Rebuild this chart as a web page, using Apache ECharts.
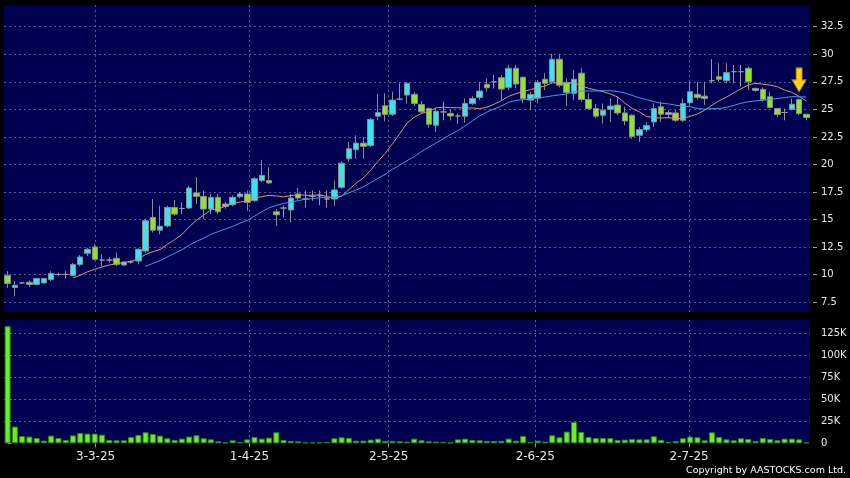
<!DOCTYPE html>
<html>
<head>
<meta charset="utf-8">
<script src="https://cdn.jsdelivr.net/npm/echarts@6/dist/echarts.min.js"></script>
<style>
html,body{margin:0;padding:0;background:#000;}
#chart{width:850px;height:478px;}
</style>
</head>
<body>
<div id="chart"></div>
<script>
// Trading dates (d-m-yy)
const dates = [
'13-2-25','14-2-25','17-2-25','18-2-25','19-2-25','20-2-25','21-2-25','24-2-25','25-2-25','26-2-25','27-2-25','28-2-25',
'3-3-25','4-3-25','5-3-25','6-3-25','7-3-25','10-3-25','11-3-25','12-3-25','13-3-25','14-3-25','17-3-25','18-3-25','19-3-25','20-3-25','21-3-25','24-3-25','25-3-25','26-3-25','27-3-25','28-3-25','31-3-25',
'1-4-25','2-4-25','3-4-25','7-4-25','8-4-25','9-4-25','10-4-25','11-4-25','14-4-25','15-4-25','16-4-25','17-4-25','22-4-25','23-4-25','24-4-25','25-4-25','28-4-25','29-4-25','30-4-25',
'2-5-25','6-5-25','7-5-25','8-5-25','9-5-25','12-5-25','13-5-25','14-5-25','15-5-25','16-5-25','19-5-25','20-5-25','21-5-25','22-5-25','23-5-25','26-5-25','27-5-25','28-5-25','29-5-25','30-5-25',
'2-6-25','3-6-25','4-6-25','5-6-25','6-6-25','9-6-25','10-6-25','11-6-25','12-6-25','13-6-25','16-6-25','17-6-25','18-6-25','19-6-25','20-6-25','23-6-25','24-6-25','25-6-25','26-6-25','27-6-25','30-6-25',
'2-7-25','3-7-25','4-7-25','7-7-25','8-7-25','9-7-25','10-7-25','11-7-25','14-7-25','15-7-25','16-7-25','17-7-25','18-7-25','21-7-25','22-7-25','23-7-25','24-7-25','25-7-25'
];

const opens = [
9.94,8.84,9.26,9.32,9.12,9.26,9.57,10.03,10.03,9.94,
10.94,11.94,12.52,11.33,11.33,11.49,10.88,11.15,11.24,12.15,
15.19,14.04,14.43,16.10,16.01,16.05,17.42,17.11,15.96,17.02,
16.20,16.35,17.08,17.33,16.72,18.54,18.54,15.71,16.05,15.87,
17.33,16.87,17.11,17.17,16.87,16.87,17.93,20.52,21.34,21.94,
21.73,24.38,25.32,24.56,25.93,26.30,26.36,25.45,25.08,23.56,
24.77,24.63,24.40,24.38,25.54,26.08,27.27,27.50,27.87,27.00,
28.73,27.91,25.84,26.00,27.73,27.50,29.55,27.45,26.45,28.28,
25.90,25.08,24.47,25.00,25.39,24.68,24.47,22.65,23.17,23.86,
25.23,24.53,24.68,24.01,25.60,26.36,26.20,27.60,27.96,27.60,
28.42,28.42,28.73,26.72,26.82,26.14,25.08,24.72,25.00,25.90,
24.56
];
const highs = [
10.33,9.42,9.35,9.48,9.72,9.72,10.33,10.17,10.33,11.06,
11.79,12.45,12.76,11.85,11.60,12.00,11.24,11.30,12.40,15.10,
16.87,16.26,16.26,16.78,16.56,18.08,18.84,17.63,17.33,17.33,
16.60,17.20,17.50,17.63,18.85,20.43,19.75,15.96,16.26,17.33,
17.87,17.63,17.63,17.63,17.63,18.54,20.30,22.04,22.65,22.50,
24.20,26.39,26.45,26.60,27.36,27.50,26.60,25.75,25.17,25.10,
25.69,25.00,24.60,25.99,26.20,27.50,27.82,28.12,28.12,29.03,
29.03,27.96,26.60,27.66,28.28,30.04,30.04,27.82,28.58,28.73,
26.45,25.50,25.54,25.99,26.14,25.23,24.55,23.40,23.86,25.54,
25.69,24.93,24.93,25.99,27.50,27.50,27.50,29.55,29.19,29.19,
29.03,29.03,28.88,27.00,27.00,26.60,25.10,25.08,25.99,25.99,
24.60
];
const lows = [
8.80,8.05,9.17,8.87,9.02,9.20,9.42,9.87,9.66,9.85,
10.78,11.70,11.30,10.78,11.10,10.78,10.80,11.00,10.94,12.00,
13.82,13.68,14.30,15.35,15.50,15.96,16.41,15.05,15.50,15.50,
16.00,16.20,16.95,15.80,16.60,18.38,18.24,14.43,15.20,14.74,
16.80,16.10,16.72,16.30,16.10,16.26,17.80,20.20,20.52,20.52,
21.60,24.01,23.90,24.40,25.84,25.54,25.30,24.60,23.35,22.95,
24.00,24.00,23.70,23.80,25.40,25.84,26.60,26.90,25.84,26.75,
26.90,25.54,24.93,25.54,26.75,27.40,27.00,25.30,25.84,25.70,
24.93,24.20,23.72,23.86,24.47,23.56,22.34,22.04,22.95,23.40,
23.86,24.17,23.86,23.86,25.38,25.90,25.38,27.36,27.50,27.36,
27.36,27.05,26.75,26.60,25.70,25.08,24.30,24.01,24.90,24.47,
24.01
];
const closes = [
9.21,9.05,9.26,9.11,9.66,9.66,10.12,10.03,10.03,10.94,
11.61,12.31,11.40,11.33,11.33,10.94,11.15,11.15,12.31,14.89,
14.04,14.40,16.10,15.50,16.01,17.87,17.11,15.96,17.02,15.71,
16.41,17.02,17.33,16.56,18.70,19.00,18.33,15.44,16.05,16.96,
16.96,16.87,17.11,17.17,16.87,17.69,20.12,21.43,21.94,21.64,
24.08,24.71,24.53,25.84,25.93,27.36,25.54,24.78,23.65,24.84,
24.77,24.40,24.40,25.54,25.99,26.66,26.96,27.50,26.84,28.73,
27.30,25.99,26.36,27.45,27.36,29.55,27.20,26.54,27.73,25.90,
25.08,24.38,24.93,25.30,24.68,23.95,22.55,23.17,23.53,25.08,
24.56,24.71,24.01,25.54,26.60,26.08,25.99,27.60,27.73,28.33,
28.42,28.42,27.50,26.90,25.90,25.17,24.53,24.72,25.47,24.62,
24.26
];

// Moving averages (10-day orange, 20-day blue)
const ma10 = [null,null,null,null,null,null,null,null,null,
9.71,9.95,10.27,10.49,10.71,10.88,11.00,11.11,11.22,11.45,
11.84,12.09,12.29,12.76,13.18,13.65,14.34,14.94,15.42,15.89,
15.97,16.21,16.47,16.59,16.70,16.97,17.08,17.20,17.15,17.06,
17.18,17.24,17.22,17.20,17.26,17.08,16.95,17.12,17.72,18.31,
18.78,19.49,20.28,21.02,21.89,22.79,23.76,24.30,24.64,24.81,
25.13,25.20,25.16,25.15,25.12,25.13,25.06,25.20,25.47,25.79,
26.18,26.43,26.59,26.79,26.98,27.12,27.40,27.43,27.33,27.42,
27.14,26.92,26.76,26.61,26.40,26.13,25.57,25.10,24.77,24.35,
24.27,24.21,24.25,24.15,24.18,24.37,24.58,24.93,25.37,25.79,
26.12,26.50,26.87,27.22,27.36,27.29,27.20,27.05,26.76,26.54,
26.17,25.75];
const ma20 = [null,null,null,null,null,null,null,null,null,null,
null,null,null,null,null,null,null,null,null,
10.77,11.02,11.28,11.63,11.95,12.26,12.67,13.02,13.32,13.67,
13.91,14.15,14.38,14.68,14.94,15.31,15.71,16.07,16.29,16.47,
16.58,16.72,16.85,16.90,16.98,17.02,17.01,17.16,17.44,17.68,
17.98,18.36,18.75,19.11,19.57,19.93,20.35,20.71,21.18,21.56,
21.95,22.34,22.72,23.08,23.50,23.96,24.41,24.75,25.05,25.30,
25.65,25.81,25.88,25.97,26.05,26.12,26.23,26.31,26.40,26.61,
26.66,26.67,26.67,26.70,26.69,26.62,26.49,26.27,26.05,25.88,
25.70,25.56,25.50,25.38,25.29,25.25,25.08,25.02,25.07,25.07,
25.19,25.36,25.56,25.69,25.77,25.83,25.89,25.99,26.07,26.16,
26.14,26.13];

const volumes = [
133000,19000,8300,7600,6000,3000,8700,6000,3800,9000,
11700,11000,11000,9800,3800,3400,3400,7200,9500,12500,
10600,8700,5700,3800,5300,7600,9100,5700,4500,2300,
800,3400,1500,4500,7200,5300,6400,12500,3800,2700,
2300,1100,1100,1100,1500,5700,6800,6000,3000,3000,
4200,5300,2700,2700,2300,1900,5300,3400,2300,1900,
1500,800,4500,5300,3800,3400,2700,2700,2700,5300,
3000,8300,1500,3000,1900,9100,6800,13300,24300,12900,
7200,6000,6000,6000,3800,4200,4900,4500,4500,8000,
3800,1500,2700,5700,7600,6800,3400,12500,7200,4500,
3400,5700,4900,2700,6000,4900,3400,5300,5300,4500,
1100
];

const priceTicks = {min: 7.5, max: 32.5, step: 2.5};
const volumeTicks = [0, 25000, 50000, 75000, 100000, 125000];
const arrowIdx = 109, arrowValue = 27.67;

// first trading day of each month -> date tick positions
const monthStarts = [];
dates.forEach((d, i) => {
  if (i > 0 && d.split('-')[1] !== dates[i - 1].split('-')[1]) monthStarts.push(i);
});
const slots = dates.length - 1;

const NAVY = '#000050';
const GRIDC = '#5a5a90';
const dash = [2, 3];
const FONT = 'DejaVu Sans';

const chart = echarts.init(document.getElementById('chart'), null, {renderer: 'canvas'});
const candleData = opens.map((o, i) => [o, closes[i], lows[i], highs[i]]);

const dateAxis = (grid, showLabels) => ({
  type: 'value', gridIndex: grid, position: 'bottom', min: -0.5, max: slots - 0.5,
  axisLine: {show: false},
  axisTick: {show: showLabels, customValues: monthStarts, length: 4, lineStyle: {color: '#9a9a9a'}},
  axisLabel: {show: showLabels, customValues: monthStarts, color: '#e8e8e8', fontFamily: FONT, fontSize: 12, margin: 8,
    formatter: v => dates[Math.round(v)]},
  splitLine: {show: true, lineStyle: {color: GRIDC, type: dash, width: 1}}
});

chart.setOption({
  animation: false,
  backgroundColor: '#000',
  title: {
    text: 'Copyright by AASTOCKS.com Ltd.', right: 4, top: 466, padding: 0,
    textStyle: {color: '#ffffff', fontSize: 9.5, fontWeight: 'normal', fontFamily: FONT}
  },
  grid: [
    {left: 4, top: 5, width: 806, height: 307, show: true, backgroundColor: NAVY, borderWidth: 0},
    {left: 4, top: 26.7, width: 806, height: 275.6, show: false},
    {left: 4, top: 320, width: 806, height: 123.3, show: true, backgroundColor: NAVY, borderWidth: 0}
  ],
  xAxis: [
    dateAxis(0, false),
    {type: 'category', gridIndex: 1, position: 'bottom', data: dates, boundaryGap: true, show: false},
    {type: 'category', gridIndex: 2, position: 'bottom', data: dates, boundaryGap: true, show: false},
    dateAxis(2, true)
  ],
  yAxis: [
    {type: 'value', gridIndex: 0, show: false, min: 0, max: 1, splitLine: {show: false}},
    {type: 'value', gridIndex: 1, position: 'right', offset: 3,
      min: priceTicks.min, max: priceTicks.max, interval: priceTicks.step,
      axisLine: {show: false},
      axisTick: {show: true, length: 4, lineStyle: {color: '#9a9a9a'}},
      axisLabel: {color: '#e8e8e8', fontFamily: FONT, fontSize: 10, margin: 8},
      splitLine: {show: true, lineStyle: {color: GRIDC, type: dash, width: 1}}
    },
    {type: 'value', gridIndex: 2, position: 'right', offset: 3,
      min: 0, max: 140000, interval: 25000,
      axisLine: {show: false},
      axisTick: {show: true, length: 4, customValues: volumeTicks, lineStyle: {color: '#9a9a9a'}},
      axisLabel: {color: '#e8e8e8', fontFamily: FONT, fontSize: 10, margin: 8, customValues: volumeTicks,
        formatter: v => v === 0 ? '0' : (v / 1000) + 'K'},
      splitLine: {show: true, showMinLine: false, lineStyle: {color: GRIDC, type: dash, width: 1}}
    }
  ],
  series: [
    {
      type: 'candlestick', xAxisIndex: 1, yAxisIndex: 1, data: candleData, barWidth: 6, z: 2,
      itemStyle: {color: '#38e4f0', color0: '#8ae62a', borderColor: '#8c8c8c', borderColor0: '#8c8c8c',
        borderColorDoji: '#9a9a9a', borderWidth: 1},
      markPoint: {
        silent: true,
        symbol: 'path://M4,0L10,0L10,12L14,12L7,24L0,12L4,12Z',
        symbolSize: [14, 24],
        itemStyle: {color: '#ffd21c', borderColor: '#b07800', borderWidth: 1},
        label: {show: false},
        data: [{coord: [dates[arrowIdx], arrowValue]}]
      }
    },
    {type: 'line', xAxisIndex: 1, yAxisIndex: 1, data: ma10, symbol: 'none', z: 3,
      lineStyle: {color: '#e0946c', width: 1}},
    {type: 'line', xAxisIndex: 1, yAxisIndex: 1, data: ma20, symbol: 'none', z: 3,
      lineStyle: {color: '#3aa0e6', width: 1}},
    {type: 'bar', xAxisIndex: 2, yAxisIndex: 2, data: volumes, barWidth: 6,
      itemStyle: {color: '#66f222', borderColor: '#2f8a12', borderWidth: 1}}
  ]
});
</script>
</body>
</html>
